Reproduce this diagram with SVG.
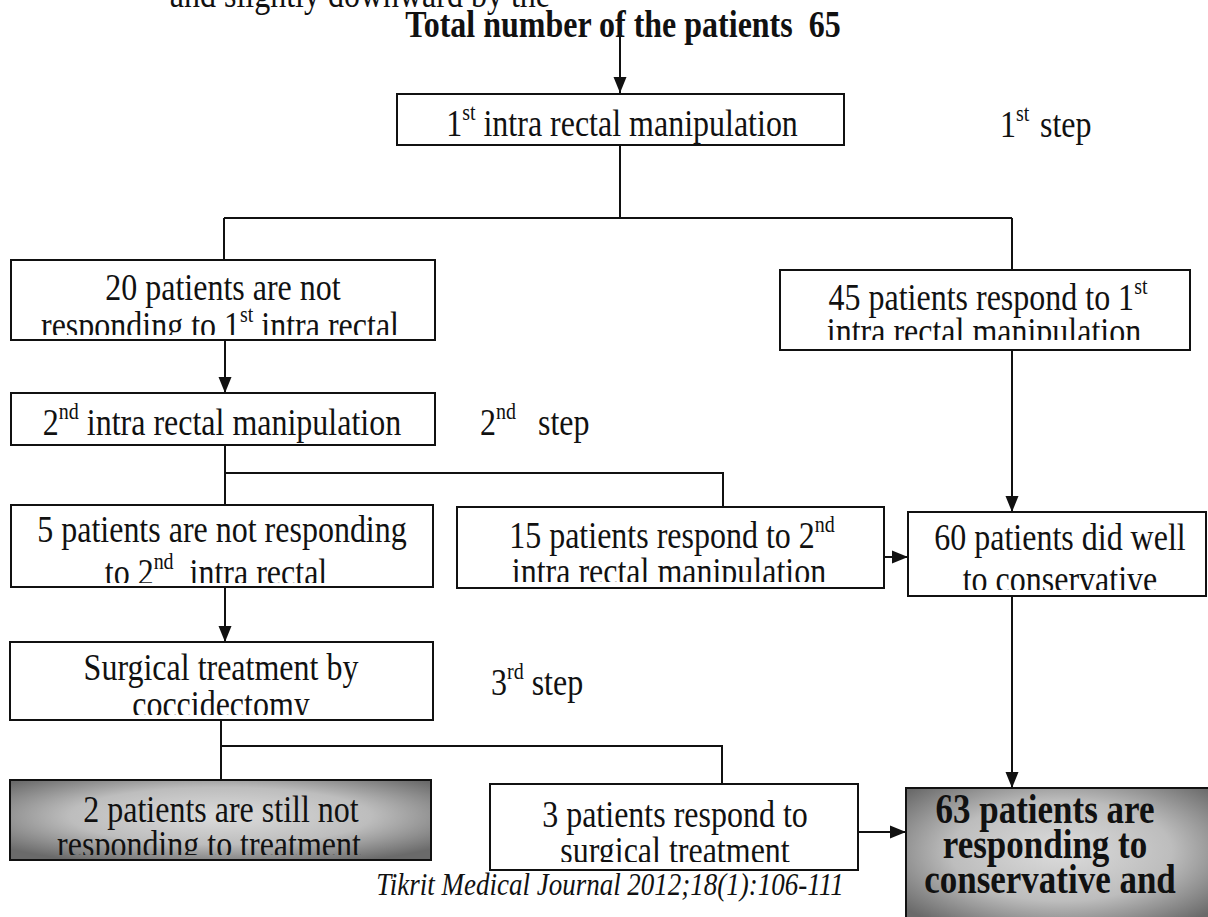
<svg xmlns="http://www.w3.org/2000/svg" width="1208" height="917" viewBox="0 0 1208 917">
<style>
.box{fill:#fff;stroke:#111;stroke-width:2}
.gbox{stroke:#111;stroke-width:2}
.t{font-family:"Liberation Serif","Times New Roman",serif;font-size:32px;fill:#111;text-anchor:middle}
.tl{font-family:"Liberation Serif","Times New Roman",serif;font-size:32px;fill:#111}
.b{font-weight:bold}
.big{font-size:35px}
.cite{font-size:27px;font-style:italic}
.c{stroke:#111;stroke-width:2;fill:none}
.a{marker-end:url(#ah)}
</style>
<defs>
<marker id="ah" markerWidth="16" markerHeight="14" refX="16" refY="7" orient="auto" markerUnits="userSpaceOnUse">
<path d="M0,0.5 L16,7 L0,13.5 z" fill="#111"/>
</marker>
<radialGradient id="g1" cx="50%" cy="45%" r="65%">
<stop offset="0" stop-color="#dcdcdc"/>
<stop offset="0.55" stop-color="#bdbdbd"/>
<stop offset="1" stop-color="#6a6a6a"/>
</radialGradient>
<clipPath id="k20"><rect x="12" y="261" width="422" height="74"/></clipPath>
<clipPath id="k45"><rect x="781" y="271" width="408" height="69"/></clipPath>
<clipPath id="k5"><rect x="12" y="506" width="420" height="77"/></clipPath>
<clipPath id="k15"><rect x="458" y="508" width="425" height="74"/></clipPath>
<clipPath id="k60"><rect x="909" y="513" width="296" height="77"/></clipPath>
<clipPath id="ks"><rect x="11" y="643" width="421" height="72"/></clipPath>
<clipPath id="k2"><rect x="11" y="781" width="419" height="74"/></clipPath>
<clipPath id="k3"><rect x="491" y="785" width="366" height="77"/></clipPath>
</defs>
<rect width="1208" height="917" fill="#fff"/>

<text class="tl" x="550" y="7" style="text-anchor:end" transform="matrix(1 0 0 1.2 0 -1.4)">and slightly downward by the</text>

<g id="title"><text class="t b" x="623" y="37" xml:space="preserve" transform="matrix(1 0 0 1.2 0 -7.4)">Total number of the patients  65</text></g>

<g id="connectors">
<path class="c a" d="M620,20 V93"/>
<path class="c" d="M620,145 V218 M224,218 H1012 M224,218 V260 M1012,218 V270"/>
<path class="c a" d="M225,340 V393"/>
<path class="c" d="M225,445 V505 M225,473 H723 V507"/>
<path class="c a" d="M1012,350 V512"/>
<path class="c a" d="M884,557 H908"/>
<path class="c a" d="M225,587 V642"/>
<path class="c" d="M221,720 V780 M221,746 H722 V784"/>
<path class="c a" d="M1012,596 V788"/>
<path class="c a" d="M858,832 H906"/>
</g>

<g id="step1">
<rect class="box" x="397" y="94" width="447" height="51"/>
<text class="t" x="622" y="136" transform="matrix(1 0 0 1.2 0 -27.2)">1<tspan font-size="20" dy="-13">st</tspan><tspan dy="13"> intra rectal manipulation</tspan></text>
</g>
<g id="label-step1"><text class="tl" x="1000" y="137" transform="matrix(1 0 0 1.2 0 -27.4)">1<tspan font-size="20" dy="-13">st</tspan><tspan dy="13" x="1040">step</tspan></text></g>

<g id="n20">
<rect class="box" x="11" y="260" width="424" height="80"/>
<g clip-path="url(#k20)">
<text class="t" x="223" y="300" transform="matrix(1 0 0 1.2 0 -60)">20 patients are not</text>
<text class="t" x="220" y="338" transform="matrix(1 0 0 1.2 0 -67.6)">responding to 1<tspan font-size="20" dy="-13">st</tspan><tspan dy="13"> intra rectal</tspan></text>
</g>
</g>

<g id="n45">
<rect class="box" x="780" y="270" width="410" height="80"/>
<g clip-path="url(#k45)">
<text class="t" x="988" y="310" transform="matrix(1 0 0 1.2 0 -62)">45 patients respond to 1<tspan font-size="20" dy="-13">st</tspan></text>
<text class="t" x="984" y="344" transform="matrix(1 0 0 1.2 0 -68.8)">intra rectal manipulation</text>
</g>
</g>

<g id="step2">
<rect class="box" x="11" y="393" width="424" height="52"/>
<text class="t" x="222" y="435" transform="matrix(1 0 0 1.2 0 -87)">2<tspan font-size="20" dy="-13">nd</tspan><tspan dy="13"> intra rectal manipulation</tspan></text>
</g>
<g id="label-step2"><text class="tl" x="480" y="435" transform="matrix(1 0 0 1.2 0 -87)">2<tspan font-size="20" dy="-13">nd</tspan><tspan dy="13" x="538">step</tspan></text></g>

<g id="n5">
<rect class="box" x="11" y="505" width="422" height="82"/>
<g clip-path="url(#k5)">
<text class="t" x="222" y="542" transform="matrix(1 0 0 1.2 0 -108.4)">5 patients are not responding</text>
<text class="t" x="216" y="585" xml:space="preserve" transform="matrix(1 0 0 1.2 0 -117)">to 2<tspan font-size="20" dy="-13">nd</tspan><tspan dy="13">  intra rectal</tspan></text>
</g>
</g>

<g id="n15">
<rect class="box" x="457" y="507" width="427" height="81"/>
<g clip-path="url(#k15)">
<text class="t" x="672" y="548" transform="matrix(1 0 0 1.2 0 -109.6)">15 patients respond to 2<tspan font-size="20" dy="-13">nd</tspan></text>
<text class="t" x="669" y="584" transform="matrix(1 0 0 1.2 0 -116.8)">intra rectal manipulation</text>
</g>
</g>

<g id="n60">
<rect class="box" x="908" y="512" width="298" height="84"/>
<g clip-path="url(#k60)">
<text class="t" x="1060" y="550" transform="matrix(1 0 0 1.2 0 -110)">60 patients did well</text>
<text class="t" x="1060" y="592" transform="matrix(1 0 0 1.2 0 -118.4)">to conservative</text>
</g>
</g>

<g id="step3">
<rect class="box" x="10" y="642" width="423" height="78"/>
<g clip-path="url(#ks)">
<text class="t" x="221" y="680" transform="matrix(1 0 0 1.2 0 -136)">Surgical treatment by</text>
<text class="t" x="221" y="717" transform="matrix(1 0 0 1.2 0 -143.4)">coccidectomy</text>
</g>
</g>
<g id="label-step3"><text class="tl" x="491" y="695" transform="matrix(1 0 0 1.2 0 -139)">3<tspan font-size="20" dy="-13">rd</tspan><tspan dy="13"> step</tspan></text></g>

<g id="n2">
<rect class="gbox" x="10" y="780" width="421" height="80" fill="url(#g1)"/>
<g clip-path="url(#k2)">
<text class="t" x="221" y="822" transform="matrix(1 0 0 1.2 0 -164.4)">2 patients are still not</text>
<text class="t" x="209" y="857" transform="matrix(1 0 0 1.2 0 -171.4)">responding to treatment</text>
</g>
</g>

<g id="n3">
<rect class="box" x="490" y="784" width="368" height="86"/>
<g clip-path="url(#k3)">
<text class="t" x="675" y="827" transform="matrix(1 0 0 1.2 0 -165.4)">3 patients respond to</text>
<text class="t" x="675" y="863" transform="matrix(1 0 0 1.2 0 -172.6)">surgical treatment</text>
</g>
</g>

<g id="n63">
<rect class="gbox" x="906" y="788" width="310" height="140" fill="url(#g1)"/>
<text class="t b big" x="1045" y="823" transform="matrix(1 0 0 1.2 0 -164.6)">63 patients are</text>
<text class="t b big" x="1045" y="858" transform="matrix(1 0 0 1.2 0 -171.6)">responding to</text>
<text class="t b big" x="1050" y="893" transform="matrix(1 0 0 1.2 0 -178.6)">conservative and</text>
</g>

<text class="t cite" x="610" y="895" transform="matrix(1 0 0 1.2 0 -179)">Tikrit Medical Journal 2012;18(1):106-111</text>
</svg>
